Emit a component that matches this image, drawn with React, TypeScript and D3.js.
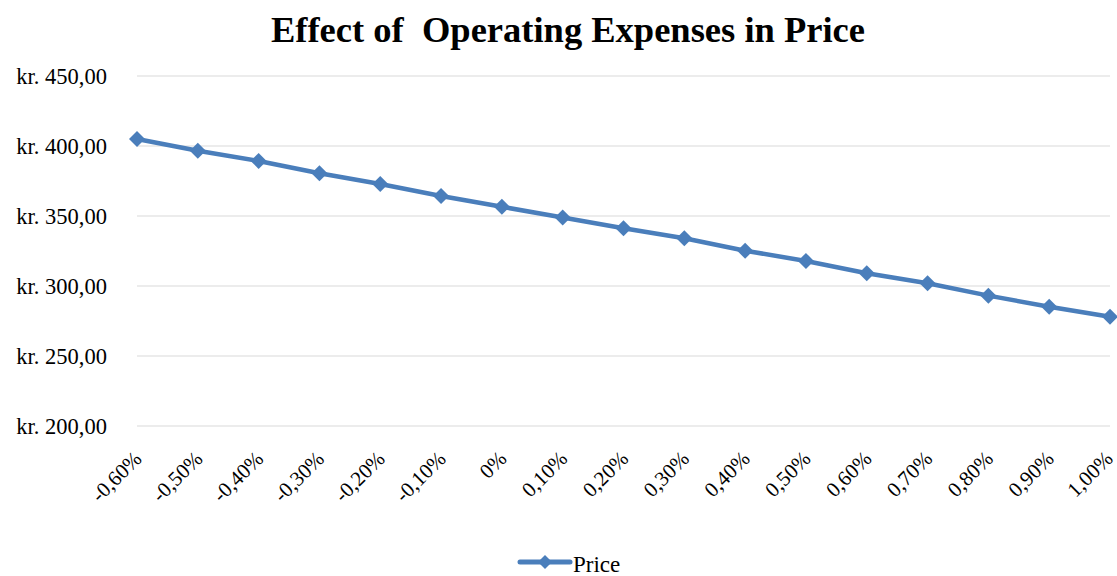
import React from "react";
import * as d3 from "d3";

// Operating-expense change scenarios and the resulting price
const categories: string[] = [
  "-0,60%", "-0,50%", "-0,40%", "-0,30%", "-0,20%", "-0,10%", "0%",
  "0,10%", "0,20%", "0,30%", "0,40%", "0,50%", "0,60%", "0,70%",
  "0,80%", "0,90%", "1,00%",
];
const priceValues: number[] = [
  405.0, 396.6, 389.3, 380.5, 372.9, 364.3, 356.6, 348.9, 341.2,
  334.1, 325.2, 317.9, 309.1, 302.0, 293.1, 285.2, 278.1,
];
const yTicks: number[] = [200, 250, 300, 350, 400, 450];
const seriesName = "Price";
const titleText = "Effect of  Operating Expenses in Price";

const W = 1117;
const H = 576;
const FONT = "'Liberation Serif', 'Times New Roman', serif";
const BLUE = "#4a7ebb";

const fmtKr = (v: number) => "kr. " + v.toFixed(2).replace(".", ",");

export default function App() {
  const x = d3.scalePoint<string>().domain(categories).range([137, 1110]);
  const y = d3.scaleLinear().domain([200, 450]).range([426, 76]);

  const line = d3
    .line<number>()
    .x((_, i) => x(categories[i]) as number)
    .y((d) => y(d));

  const diamond = (cx: number, cy: number, r: number) =>
    `M${cx},${cy - r}L${cx + r},${cy}L${cx},${cy + r}L${cx - r},${cy}Z`;

  return (
    <svg
      width={W}
      height={H}
      style={{ position: "absolute", left: 0, top: 0, background: "#fff" }}
      fontFamily={FONT}
    >
      <text
        x={568}
        y={42}
        textAnchor="middle"
        fontSize={36.5}
        fontWeight="bold"
        fill="#000"
        style={{ whiteSpace: "pre" }}
      >
        {titleText}
      </text>

      {yTicks.map((t) => (
        <g key={t}>
          <line x1={137} x2={1110} y1={y(t)} y2={y(t)} stroke="#d9d9d9" strokeWidth={1} />
          <text x={107} y={y(t)} dy="0.35em" textAnchor="end" fontSize={22.5} fill="#000">
            {fmtKr(t)}
          </text>
        </g>
      ))}

      {categories.map((c) => {
        const cx = Math.min((x(c) as number) + 6, 1114);
        const cy = 460;
        return (
          <text
            key={c}
            x={cx}
            y={cy}
            textAnchor="end"
            fontSize={21}
            fill="#000"
            transform={`rotate(-45 ${cx} ${cy})`}
          >
            {c}
          </text>
        );
      })}

      <path d={line(priceValues) || ""} fill="none" stroke={BLUE} strokeWidth={4.5} strokeLinejoin="round" />
      {priceValues.map((v, i) => (
        <path key={i} d={diamond(x(categories[i]) as number, y(v), 8)} fill={BLUE} />
      ))}

      <g>
        <line x1={520} x2={570} y1={562} y2={562} stroke={BLUE} strokeWidth={5} strokeLinecap="round" />
        <path d={diamond(545, 562, 7)} fill={BLUE} />
        <text x={573} y={572} fontSize={23} fill="#000">
          {seriesName}
        </text>
      </g>
    </svg>
  );
}
